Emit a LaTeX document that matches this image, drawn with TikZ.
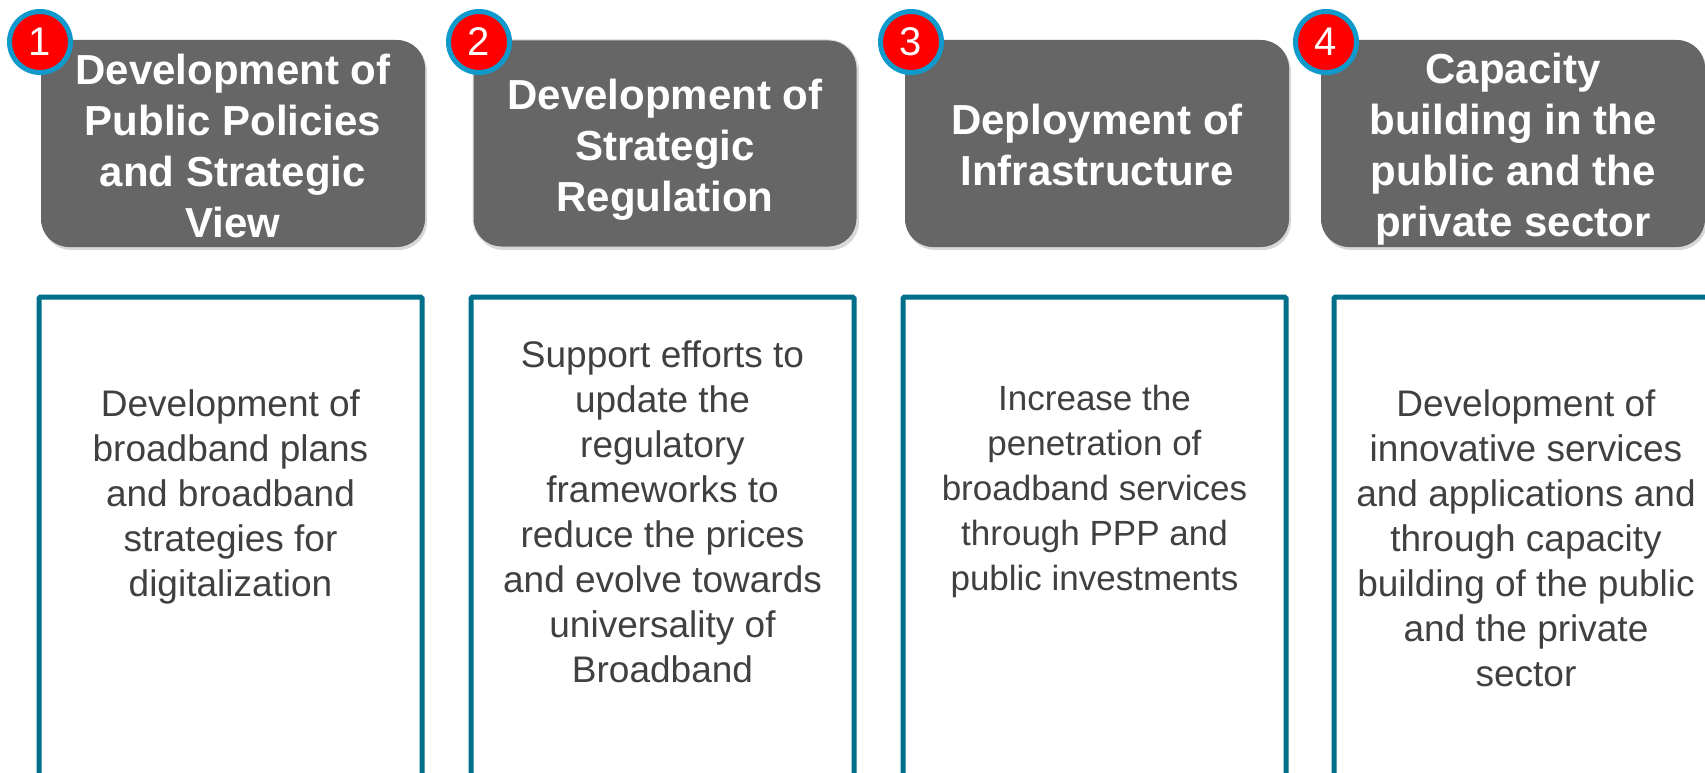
\documentclass[tikz,border=0pt]{standalone}
\usepackage{fontspec}
\setmainfont{Liberation Sans}
\usetikzlibrary{shadows}
\definecolor{boxgrey}{HTML}{666666}
\definecolor{tealline}{RGB}{0,111,138}
\definecolor{ringblue}{RGB}{16,154,203}
\definecolor{numred}{RGB}{255,0,0}
\definecolor{bodytext}{HTML}{404040}
\begin{document}
\begin{tikzpicture}[x=1pt,y=-1pt,
 topbox/.style={rectangle, rounded corners=28pt, fill=boxgrey, minimum width=384pt, minimum height=207pt, inner sep=0pt, drop shadow={shadow xshift=2pt, shadow yshift=-3pt, opacity=0.3}},
 toptxt/.style={inner sep=0pt, text=white, align=center, font=\fontsize{42}{51}\selectfont\bfseries},
 numc/.style={circle, draw=ringblue, line width=5pt, fill=numred, minimum size=61pt, inner sep=0pt, text=white, font=\fontsize{40}{40}\selectfont},
 botbox/.style={rectangle, draw=tealline, line width=5pt, minimum width=383pt, minimum height=540pt, inner sep=0pt, rounded corners=1.5pt},
 bodytxt/.style={align=center, text=bodytext, font=\fontsize{37}{45}\selectfont, inner sep=0pt}
]
\useasboundingbox[fill=white] (0,0) rectangle (1705,773);

\node[topbox] (t1) at (233,143.5) {};
\node[topbox, draw=gray!25, line width=1pt] (t2) at (665,143.5) {};
\node[topbox] (t3) at (1097,143.5) {};
\node[topbox] (t4) at (1513,143.5) {};

\node[toptxt] (tt1) at (233,145.5) {Development of\\Public Policies\\and Strategic\\View};
\node[toptxt] (tt2) at (665,149.5) {Development of\\Strategic\\Regulation};
\node[toptxt] (tt3) at (1097,144.5) {Deployment of\\Infrastructure};
\node[toptxt] (tt4) at (1513,149.5) {Capacity\\building in the\\public and the\\private sector};

\node[numc] (n1) at (40,42) {1};
\node[numc] (n2) at (479,42) {2};
\node[numc] (n3) at (911,42) {3};
\node[numc] (n4) at (1326,42) {4};

\node[botbox] (b1) at (230.5,567) {};
\node[botbox] (b2) at (662.5,567) {};
\node[botbox] (b3) at (1094.5,567) {};
\node[botbox] (b4) at (1525.5,567) {};

\node[bodytxt] (d1) at (230.5,497) {Development of\\broadband plans\\and broadband\\strategies for\\digitalization};
\node[bodytxt] (d2) at (662.5,511.5) {Support efforts to\\update the\\regulatory\\frameworks to\\reduce the prices\\and evolve towards\\universality of\\Broadband};
\node[bodytxt, font=\fontsize{35}{45}\selectfont] (d3) at (1094.5,491.5) {Increase the\\penetration of\\broadband services\\through PPP and\\public investments};
\node[bodytxt] (d4) at (1526,538) {Development of\\innovative services\\and applications and\\through capacity\\building of the public\\and the private\\sector};
\end{tikzpicture}
\end{document}
